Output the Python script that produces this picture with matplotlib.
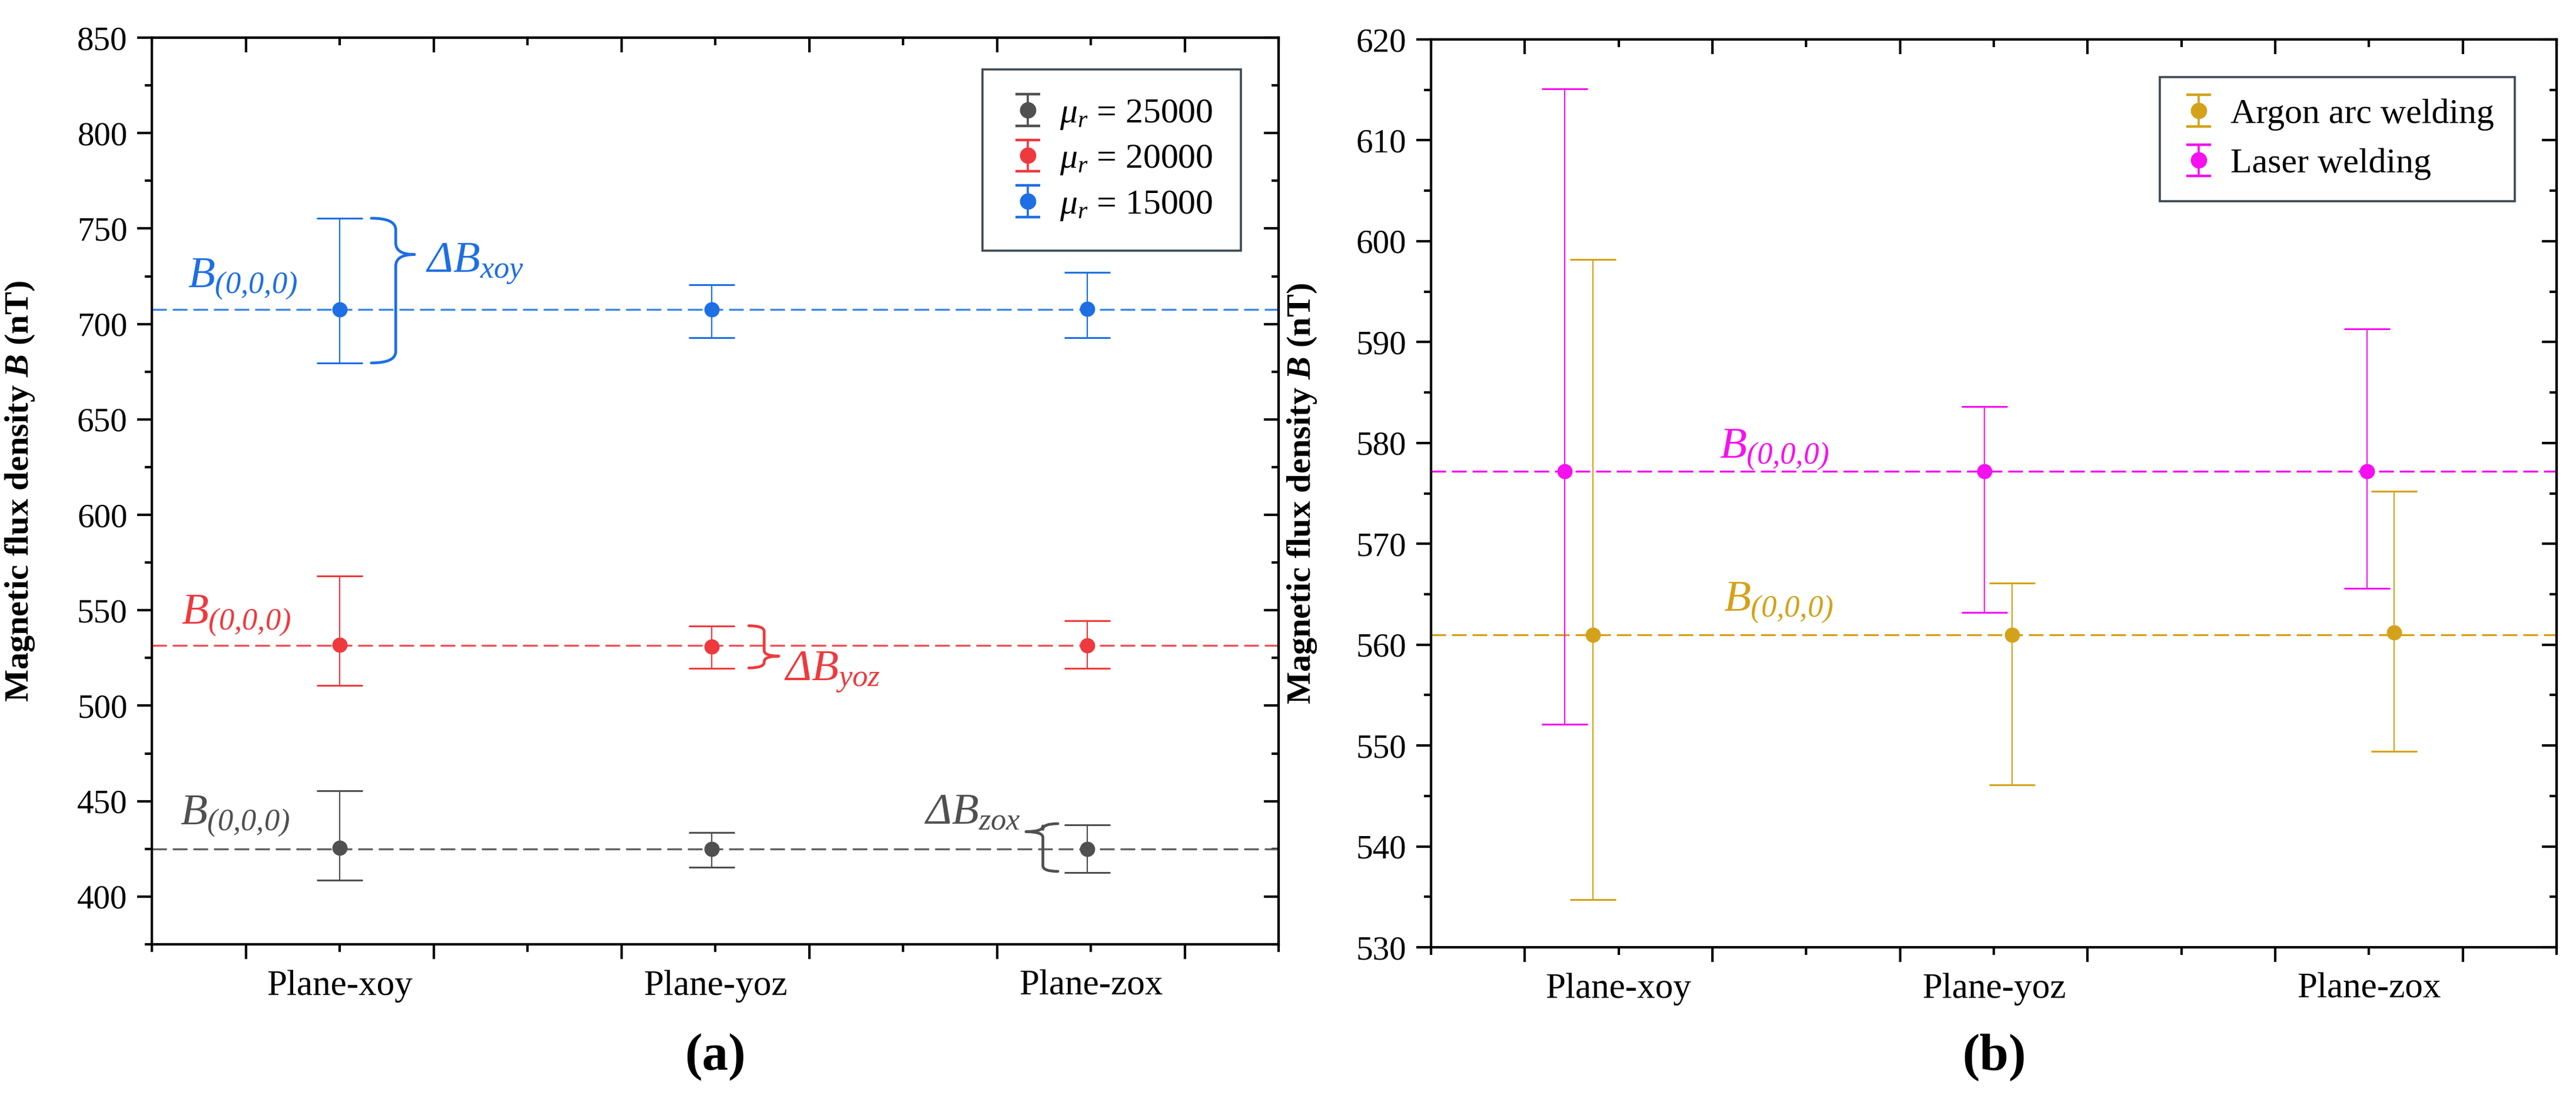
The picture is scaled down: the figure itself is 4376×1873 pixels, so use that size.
import numpy as np
import matplotlib
matplotlib.use('Agg')
import matplotlib.pyplot as plt
from matplotlib.path import Path
from matplotlib.patches import PathPatch
from matplotlib.container import ErrorbarContainer
from matplotlib.legend_handler import HandlerErrorbar

plt.rcParams['font.family'] = ['Liberation Serif', 'DejaVu Serif']
plt.rcParams['mathtext.fontset'] = 'custom'
# everything in math mode is italic here (digits, brackets, Greek too)
plt.rcParams['mathtext.rm'] = 'Liberation Serif:italic'
plt.rcParams['mathtext.it'] = 'Liberation Serif:italic'
plt.rcParams['mathtext.bf'] = 'Liberation Serif:bold'
plt.rcParams['mathtext.bfit'] = 'Liberation Serif:italic:bold'

# ---- data (a) ----
planes = ['Plane-xoy', 'Plane-yoz', 'Plane-zox']
x_a = [1.0, 1.99, 2.99]
mu_labels = [r'$\mu_r$ = 25000', r'$\mu_r$ = 20000', r'$\mu_r$ = 15000']
b25 = [425.5, 425.0, 425.0]
b25_hi = [455.5, 433.5, 437.5]
b25_lo = [408.5, 415.5, 412.5]
b20 = [532.0, 531.0, 531.5]
b20_hi = [568.0, 541.8, 544.5]
b20_lo = [510.5, 519.5, 519.5]
b15 = [707.5, 707.5, 708.0]
b15_hi = [755.4, 720.4, 726.9]
b15_lo = [679.6, 692.7, 692.7]
ref_a = [425.0, 531.5, 707.5]

# ---- data (b) ----
x_laser = [0.856, 1.975, 2.995]
x_argon = [0.931, 2.049, 3.066]
argon = [561.0, 561.0, 561.2]
argon_hi = [598.2, 566.1, 575.2]
argon_lo = [534.7, 546.1, 549.4]
laser = [577.2, 577.2, 577.2]
laser_hi = [615.1, 583.6, 591.3]
laser_lo = [552.1, 563.2, 565.6]
ref_b = [561.0, 577.2]

c_gray, c_red, c_blue = '#505050', '#ee3a3e', '#1d6fe3'
c_gray_d, c_red_d, c_blue_d = '#606060', '#f05055', '#3a86e8'
c_gold, c_mag = '#d4a21a', '#f510f0'

fig = plt.figure(figsize=(21.88, 9.365), dpi=200)
ax1 = fig.add_axes([0.059, 0.1431, 0.4374, 0.8227])
ax2 = fig.add_axes([0.5555, 0.1404, 0.4370, 0.8238])

xmaj = np.arange(0.75, 3.5, 0.5)
xmin = np.arange(0.5, 3.51, 0.5)


def style_axis(ax, ymaj, ymin):
    for s in ax.spines.values():
        s.set_linewidth(1.5)
    ax.set_xlim(0.5, 3.5)
    ax.set_xticks(xmaj)
    ax.set_xticklabels([])
    ax.set_xticks(xmin, ['', planes[0], '', planes[1], '', planes[2], ''], minor=True)
    ax.set_yticks(ymaj)
    ax.set_yticks(ymin, minor=True)
    ax.tick_params(axis='both', which='major', direction='out', length=9, width=1.5,
                   labelsize=20.5, pad=6)
    ax.tick_params(axis='both', which='minor', direction='out', length=4.5, width=1.5)
    ax.tick_params(axis='x', which='minor', labelsize=22, pad=11)
    # top / right ticks point inward
    top = ax.secondary_xaxis('top')
    top.set_xticks(xmaj)
    top.set_xticks(xmin, minor=True)
    right = ax.secondary_yaxis('right')
    right.set_yticks(ymaj)
    right.set_yticks(ymin, minor=True)
    for sec in (top, right):
        for s in sec.spines.values():
            s.set_linewidth(1.5)
        sec.tick_params(which='major', direction='in', length=9, width=1.5,
                        labeltop=False, labelright=False)
        sec.tick_params(which='minor', direction='in', length=4.5, width=1.5)
    ax.set_ylabel(r'Magnetic flux density $\mathbfit{B}$ (nT)', fontsize=21, fontweight='bold')


def brace(ax, x, y_top, y_bot, y_tip, d, t, r, color, s=1):
    verts = [(x - s * d, y_top), (x, y_top), (x, y_top - r),
             (x, y_tip + r), (x, y_tip), (x + s * t, y_tip),
             (x, y_tip), (x, y_tip - r),
             (x, y_bot + r), (x, y_bot), (x - s * d, y_bot)]
    codes = [Path.MOVETO, Path.CURVE3, Path.CURVE3,
             Path.LINETO, Path.CURVE3, Path.CURVE3,
             Path.CURVE3, Path.CURVE3,
             Path.LINETO, Path.CURVE3, Path.CURVE3]
    ax.add_patch(PathPatch(Path(verts, codes), fill=False, edgecolor=color, lw=1.7,
                           capstyle='round', joinstyle='round'))


def small_caps(leg_artist, orig):
    leg_artist.update_from(orig)
    if hasattr(orig, 'get_marker') and orig.get_marker() == '_':
        leg_artist.set_markersize(15)
        leg_artist.set_markeredgewidth(1.6)
    elif hasattr(orig, 'get_marker') and orig.get_marker() == 'o':
        leg_artist.set_markersize(9)
    elif hasattr(leg_artist, 'set_linewidth') and not hasattr(orig, 'get_marker'):
        leg_artist.set_linewidth(1.3)


hmap = {ErrorbarContainer: HandlerErrorbar(yerr_size=0.45, update_func=small_caps)}

eb_kw = dict(fmt='o', ms=8.3, capsize=13.9, elinewidth=0.8, capthick=1.1)
dash_kw = dict(lw=1.2, dashes=(7.5, 3))

# ---------- (a) ----------
series_a = [(b25, b25_lo, b25_hi, c_gray, c_gray_d, ref_a[0]),
            (b20, b20_lo, b20_hi, c_red, c_red_d, ref_a[1]),
            (b15, b15_lo, b15_hi, c_blue, c_blue_d, ref_a[2])]
handles = []
for (v, lo, hi, c, cd, ref), lab in zip(series_a, mu_labels):
    v = np.array(v)
    err = [v - np.array(lo), np.array(hi) - v]
    ax1.axhline(ref, color=cd, zorder=1, **dash_kw)
    h = ax1.errorbar(x_a, v, yerr=err, color=c, label=lab, zorder=3, **eb_kw)
    handles.append(h)

ax1.set_ylim(375, 850)
style_axis(ax1, np.arange(400, 851, 50), np.arange(375, 851, 25))
ax1.yaxis.set_label_coords(-0.1024, 0.5)

leg1 = ax1.legend(handles=handles, loc='upper right', bbox_to_anchor=(0.9666, 0.965),
                  borderaxespad=0, fontsize=21.5, frameon=True, fancybox=False,
                  edgecolor='#0b1a2a', handlelength=1.0, handletextpad=0.4,
                  borderpad=0.8, labelspacing=0.35, handler_map=hmap)
leg1.get_frame().set_linewidth(1.3)

ann_fs = 27
bsub = r'$B_{(0{,}0{,}0)}$'
ax1.text(0.596, 719.2, bsub, color=c_blue, fontsize=ann_fs)
ax1.text(0.578, 542.8, bsub, color=c_red, fontsize=ann_fs)
ax1.text(0.575, 437.7, bsub, color=c_gray, fontsize=ann_fs)
ax1.text(1.228, 727.5, r'$\Delta B_{xoy}$', color=c_blue, fontsize=ann_fs)
ax1.text(2.183, 513.6, r'$\Delta B_{yoz}$', color=c_red, fontsize=ann_fs)
ax1.text(2.556, 438.2, r'$\Delta B_{zox}$', color=c_gray, fontsize=ann_fs)
brace(ax1, 1.149, 755.4, 679.6, 736.4, 0.065, 0.05, 6, c_blue)
brace(ax1, 2.130, 541.9, 519.8, 526.0, 0.041, 0.039, 3, c_red)
brace(ax1, 2.872, 438.2, 413.2, 434.0, 0.040, 0.045, 3, c_gray, s=-1)

fig.text(0.2776, 0.041, '(a)', fontsize=32, fontweight='bold', ha='center', va='center')

# ---------- (b) ----------
ax2.axhline(ref_b[0], color=c_gold, zorder=1, **dash_kw)
ax2.axhline(ref_b[1], color=c_mag, zorder=1, **dash_kw)
a = np.array(argon)
hA = ax2.errorbar(x_argon, a, yerr=[a - np.array(argon_lo), np.array(argon_hi) - a],
                  color=c_gold, label='Argon arc welding', zorder=3, **eb_kw)
l = np.array(laser)
hL = ax2.errorbar(x_laser, l, yerr=[l - np.array(laser_lo), np.array(laser_hi) - l],
                  color=c_mag, label='Laser welding', zorder=3, **eb_kw)
ax2.set_ylim(530, 620)
style_axis(ax2, np.arange(530, 621, 10), np.arange(530, 621, 5))
ax2.yaxis.set_label_coords(-0.0999, 0.5)

leg2 = ax2.legend(handles=[hA, hL], loc='upper right', bbox_to_anchor=(0.9629, 0.9585),
                  borderaxespad=0, fontsize=21.5, frameon=True, fancybox=False,
                  edgecolor='#0b1a2a', handlelength=1.0, handletextpad=0.4,
                  borderpad=0.6, labelspacing=0.5, handler_map=hmap)
leg2.get_frame().set_linewidth(1.3)

ax2.text(1.269, 578.5, bsub, color=c_mag, fontsize=ann_fs)
ax2.text(1.280, 563.35, bsub, color=c_gold, fontsize=ann_fs)

fig.text(0.7742, 0.041, '(b)', fontsize=32, fontweight='bold', ha='center', va='center')

fig.savefig('out.png', dpi=200, facecolor='white')
